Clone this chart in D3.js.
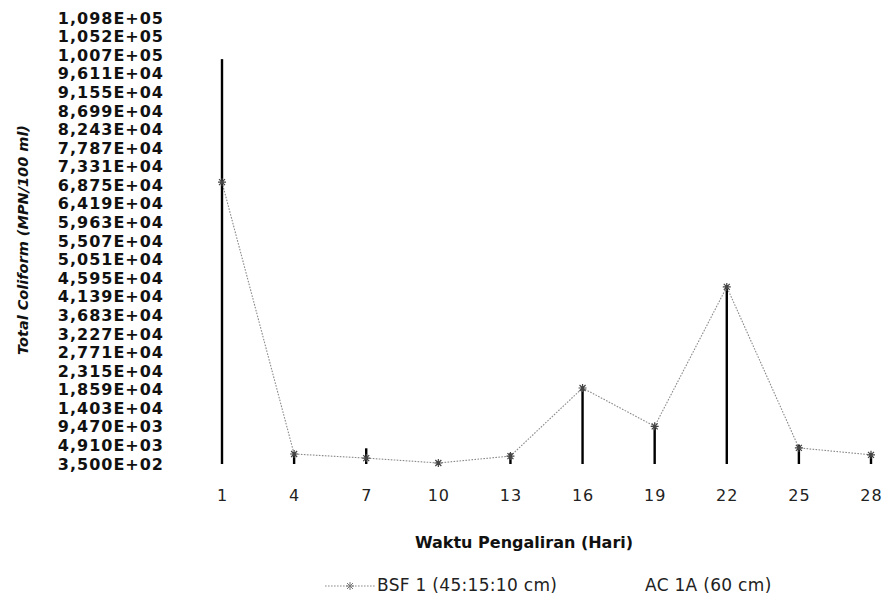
<!DOCTYPE html>
<html>
<head>
<meta charset="utf-8">
<script src="https://cdn.jsdelivr.net/npm/d3@7"></script>
<style>
  body { margin: 0; background: #fff; }
  svg { display: block; }
</style>
</head>
<body>
<svg id="chart"></svg>
<script>
// days of flow (x categories)
const days = [1, 4, 7, 10, 13, 16, 19, 22, 25, 28];

// Total coliform, MPN/100 ml
const bsf1 = [69500, 2800, 1800, 600, 2300, 19000, 9600, 43800, 4300, 2600];
const ac1a = [99700, 2900, 4200, 350, 3000, 19000, 9600, 44000, 5000, 2800];

const seriesNames = ["BSF 1 (45:15:10 cm)", "AC 1A (60 cm)"];

// y axis ticks as printed on the chart
const yTickValues = [350, 4910, 9470, 14030, 18590, 23150, 27710, 32270, 36830, 41390,
  45950, 50510, 55070, 59630, 64190, 68750, 73310, 77870, 82430, 86990,
  91550, 96110, 100670, 105230, 109790];
const yTickLabels = ["3,500E+02", "4,910E+03", "9,470E+03", "1,403E+04", "1,859E+04",
  "2,315E+04", "2,771E+04", "3,227E+04", "3,683E+04", "4,139E+04", "4,595E+04",
  "5,051E+04", "5,507E+04", "5,963E+04", "6,419E+04", "6,875E+04", "7,331E+04",
  "7,787E+04", "8,243E+04", "8,699E+04", "9,155E+04", "9,611E+04", "1,007E+05",
  "1,052E+05", "1,098E+05"];

const W = 885, H = 602;
const svg = d3.select("#chart").attr("width", W).attr("height", H);

const x = d3.scalePoint()
  .domain(days)
  .range([222, 871]);

const y = d3.scaleLinear()
  .domain([yTickValues[0], yTickValues[yTickValues.length - 1]])
  .range([464, 18]);

// y axis: labels only
const yAxis = svg.append("g")
  .attr("transform", "translate(164,0)")
  .call(d3.axisLeft(y).tickValues(yTickValues).tickSize(0).tickPadding(0)
    .tickFormat((d, i) => yTickLabels[i]));
yAxis.select(".domain").remove();
yAxis.selectAll("text")
  .style("font-family", "DejaVu Sans")
  .style("font-weight", "bold")
  .style("font-size", "16px")
  .style("letter-spacing", "1px")
  .attr("fill", "#111");

// x axis: labels only
const xAxis = svg.append("g")
  .attr("transform", `translate(0,${y(yTickValues[0])})`)
  .call(d3.axisBottom(x).tickSize(0).tickPadding(26));
xAxis.select(".domain").remove();
xAxis.selectAll("text")
  .style("font-family", "DejaVu Sans")
  .style("font-size", "16px")
  .style("letter-spacing", "1px")
  .attr("fill", "#222");

// BSF 1 line
const line = d3.line()
  .x((d, i) => x(days[i]))
  .y(d => y(d));

svg.append("path")
  .datum(bsf1)
  .attr("d", line)
  .attr("fill", "none")
  .attr("stroke", "#8a8a8a")
  .attr("stroke-width", 1.1)
  .attr("stroke-dasharray", "1.6,1.4");

// AC 1A as thin black bars
svg.selectAll(".bar")
  .data(ac1a)
  .enter().append("rect")
  .attr("class", "bar")
  .attr("x", (d, i) => x(days[i]) - 1.2)
  .attr("width", 2.4)
  .attr("y", d => y(d))
  .attr("height", d => y(yTickValues[0]) - y(d))
  .attr("fill", "#000");

// asterisk markers for BSF 1
const star = "M-4,0L4,0M0,-4L0,4M-3,-3L3,3M-3,3L3,-3";
svg.selectAll(".mk")
  .data(bsf1)
  .enter().append("path")
  .attr("class", "mk")
  .attr("transform", (d, i) => `translate(${x(days[i])},${y(d)})`)
  .attr("d", star)
  .attr("stroke", "#444")
  .attr("stroke-width", 1.2)
  .attr("fill", "none");

// axis titles
svg.append("text")
  .attr("x", 524).attr("y", 543)
  .attr("text-anchor", "middle")
  .attr("dominant-baseline", "middle")
  .style("font-family", "DejaVu Sans")
  .style("font-weight", "bold")
  .style("font-size", "16px")
  .attr("fill", "#111")
  .text("Waktu Pengaliran (Hari)");

svg.append("text")
  .attr("transform", "translate(24,240) rotate(-90)")
  .attr("text-anchor", "middle")
  .attr("dominant-baseline", "middle")
  .style("font-family", "DejaVu Sans")
  .style("font-weight", "bold")
  .style("font-style", "italic")
  .style("font-size", "14.5px")
  .attr("fill", "#111")
  .text("Total Coliform (MPN/100 ml)");

// legend
const lg = svg.append("g").attr("transform", "translate(0,586)");
lg.append("line")
  .attr("x1", 325).attr("x2", 375)
  .attr("stroke", "#8a8a8a").attr("stroke-width", 1.1)
  .attr("stroke-dasharray", "1.6,1.4");
lg.append("path")
  .attr("transform", "translate(350,0)")
  .attr("d", star)
  .attr("stroke", "#777").attr("stroke-width", 1).attr("fill", "none");
lg.append("text")
  .attr("x", 377).attr("dominant-baseline", "middle")
  .style("font-family", "DejaVu Sans").style("font-size", "17px")
  .style("letter-spacing", "0.3px")
  .attr("fill", "#222")
  .text(seriesNames[0]);
lg.append("text")
  .attr("x", 645).attr("dominant-baseline", "middle")
  .style("font-family", "DejaVu Sans").style("font-size", "17px")
  .style("letter-spacing", "0.3px")
  .attr("fill", "#222")
  .text(seriesNames[1]);
</script>
</body>
</html>
